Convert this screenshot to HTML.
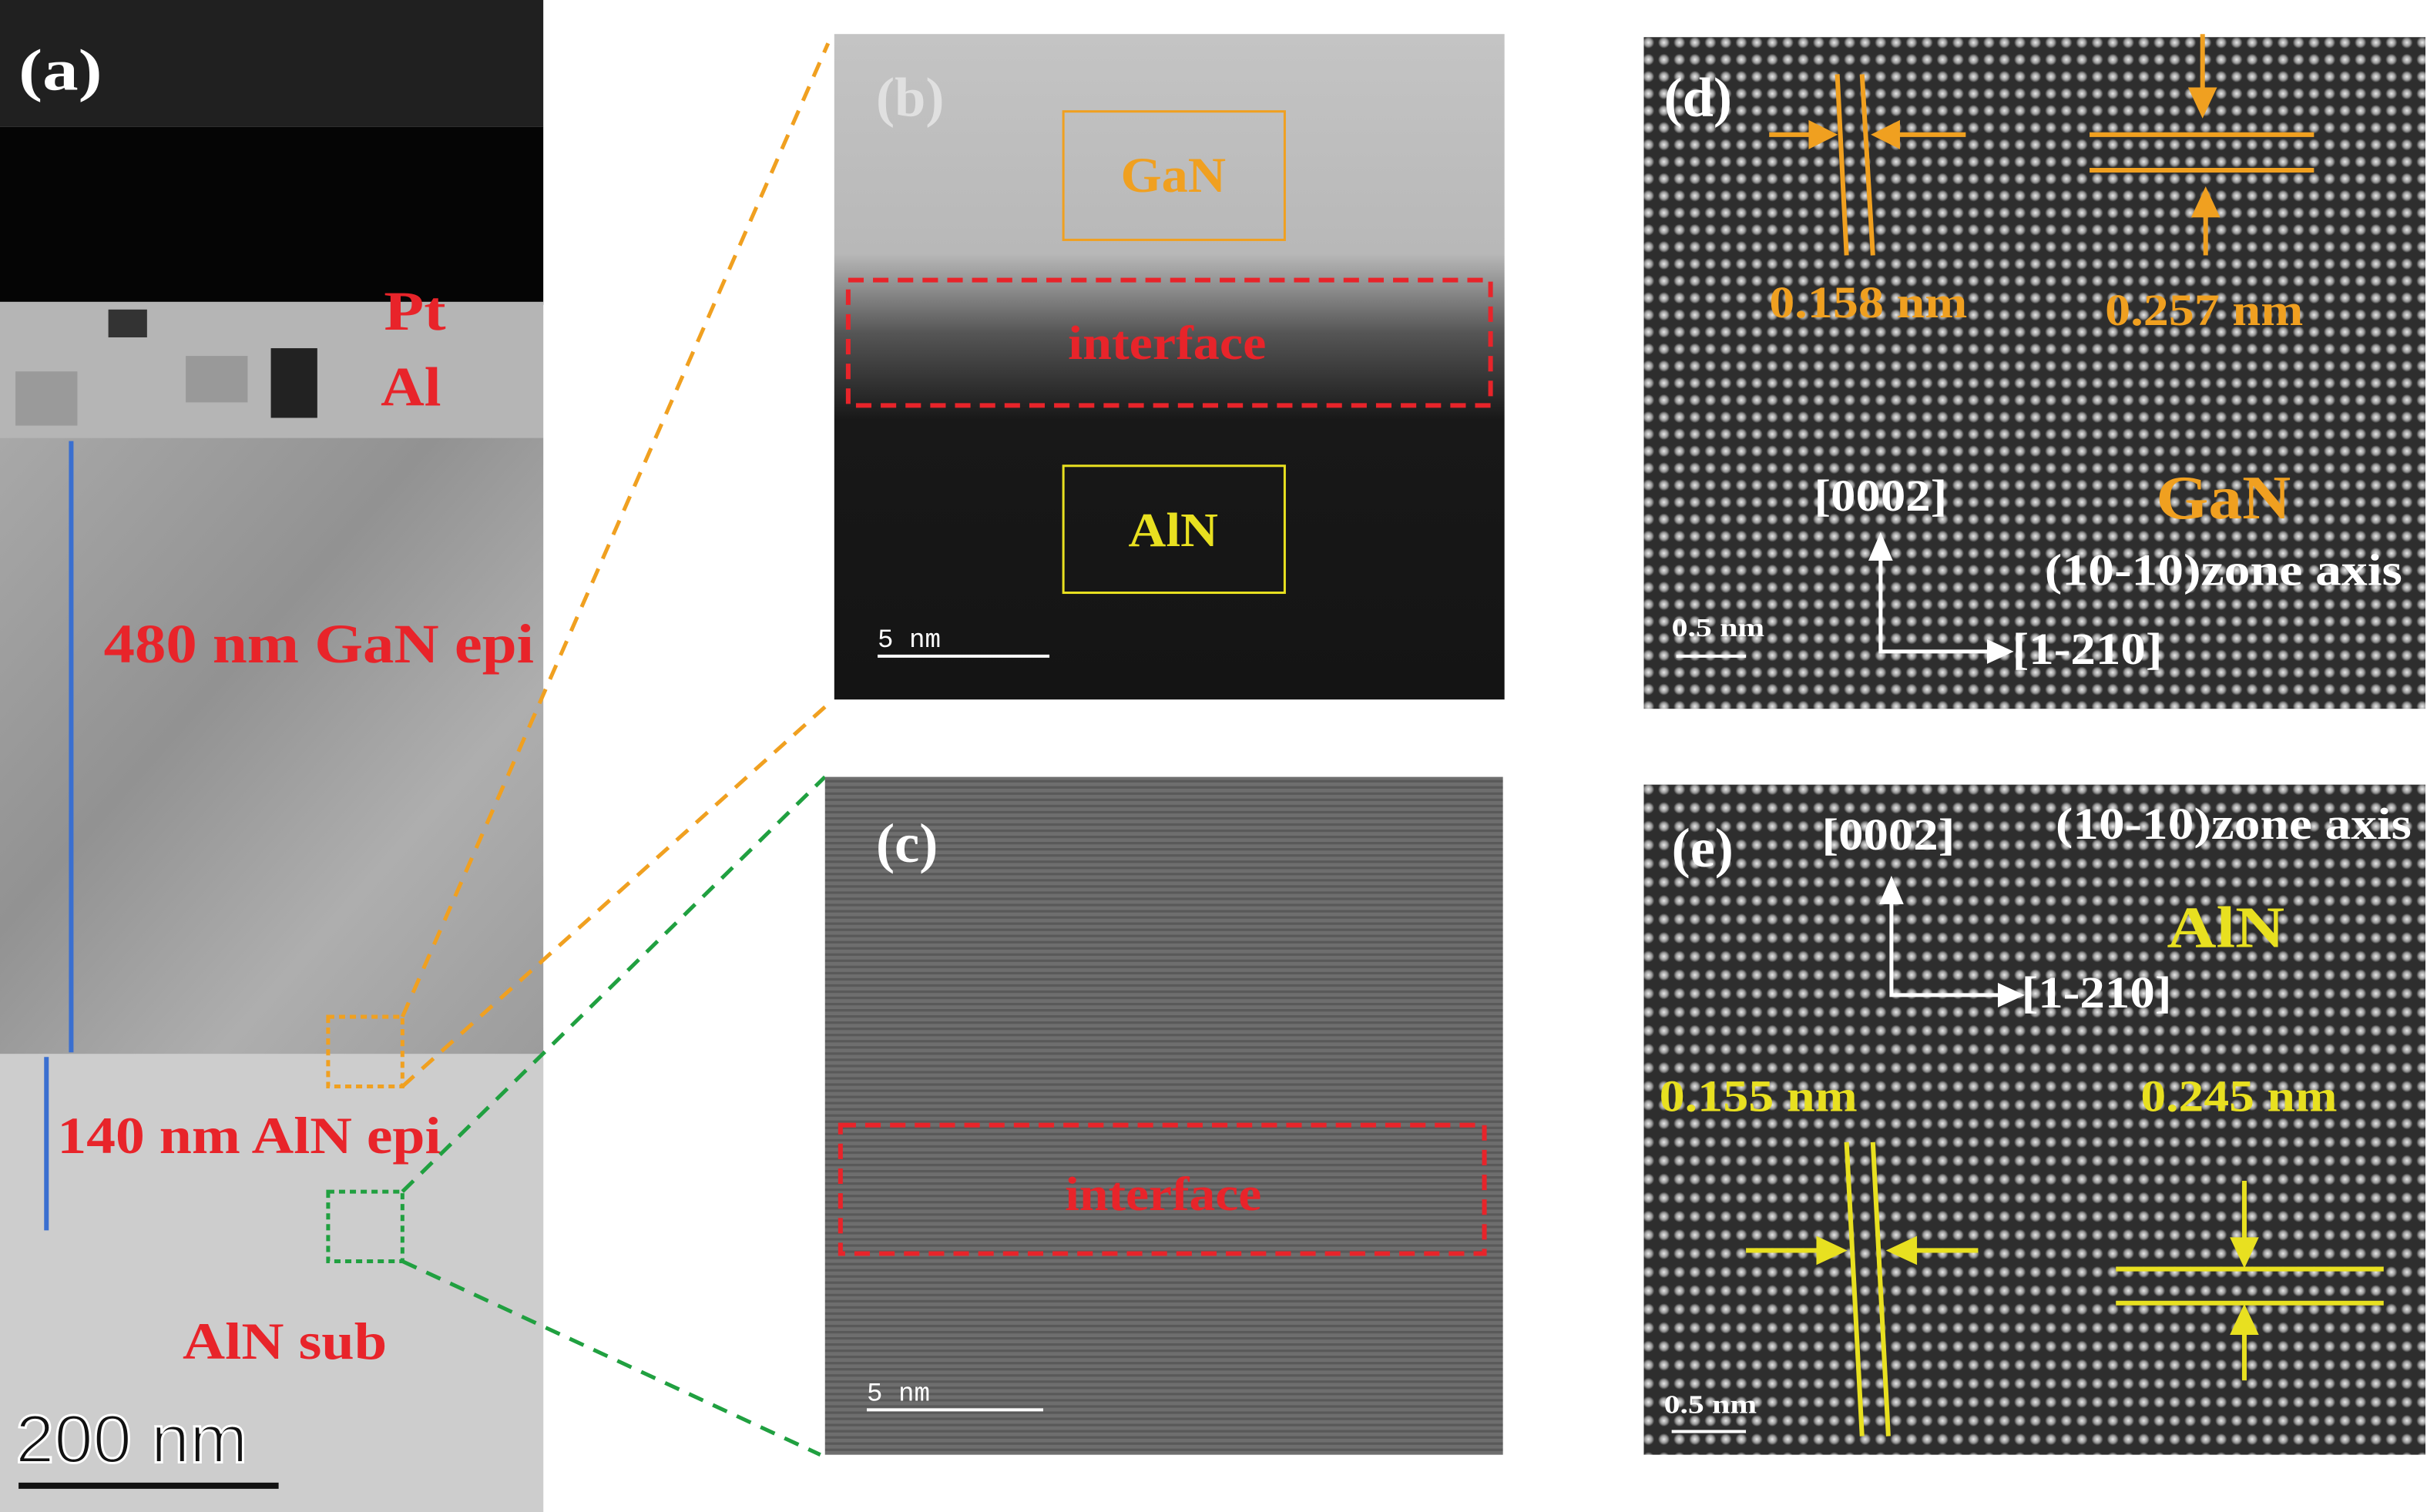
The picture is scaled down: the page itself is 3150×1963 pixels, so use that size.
<!DOCTYPE html>
<html><head><meta charset="utf-8"><style>
html,body{margin:0;padding:0;background:#fff;}
svg{display:block;}
.t{font-family:"Liberation Serif",serif;font-weight:bold;}
</style></head><body>
<svg width="3150" height="1963" viewBox="0 0 1568 977" preserveAspectRatio="none" xmlns="http://www.w3.org/2000/svg">
<defs>
<radialGradient id="dg"><stop offset="0" stop-color="#eaeaea"/><stop offset="0.6" stop-color="#999"/><stop offset="1" stop-color="#999" stop-opacity="0"/></radialGradient>
<pattern id="dots" width="10" height="11" patternUnits="userSpaceOnUse"><rect width="10" height="11" fill="#2e2e2e"/><circle cx="5" cy="5.5" r="3.8" fill="url(#dg)"/></pattern>
<pattern id="dots2" width="10" height="12" patternUnits="userSpaceOnUse"><rect width="10" height="12" fill="#2e2e2e"/><circle cx="5" cy="6" r="3.8" fill="url(#dg)"/></pattern>
<pattern id="stripe" width="4" height="4" patternUnits="userSpaceOnUse"><rect width="4" height="4" fill="#6e6e6e"/><rect width="4" height="1.6" fill="#595959"/></pattern>
<linearGradient id="bg" x1="0" y1="0" x2="0" y2="1"><stop offset="0" stop-color="#c4c4c4"/><stop offset="0.33" stop-color="#b8b8b8"/><stop offset="0.45" stop-color="#555"/><stop offset="0.58" stop-color="#181818"/><stop offset="1" stop-color="#141414"/></linearGradient>
<linearGradient id="ag" x1="0" y1="0" x2="1" y2="1"><stop offset="0" stop-color="#a8a8a8"/><stop offset="0.4" stop-color="#929292"/><stop offset="0.7" stop-color="#aeaeae"/><stop offset="1" stop-color="#9c9c9c"/></linearGradient>
</defs>

<!-- panel a -->
<rect x="0" y="0" width="351" height="977" fill="#c9c9c9"/>
<rect x="0" y="0" width="351" height="82" fill="#202020"/>
<rect x="0" y="82" width="351" height="115" fill="#050505"/>
<rect x="0" y="195" width="351" height="88" fill="#b5b5b5"/>
<rect x="70" y="200" width="25" height="18" fill="#333"/>
<rect x="175" y="225" width="30" height="45" fill="#222"/>
<rect x="120" y="230" width="40" height="30" fill="#999"/>
<rect x="10" y="240" width="40" height="35" fill="#9a9a9a"/>
<rect x="0" y="283" width="351" height="398" fill="url(#ag)"/>
<rect x="0" y="681" width="351" height="296" fill="#cdcdcd"/>
<line x1="46" y1="285" x2="46" y2="680" stroke="#3a6fd0" stroke-width="3"/>
<line x1="30" y1="683" x2="30" y2="795" stroke="#3a6fd0" stroke-width="3"/>
<rect x="212" y="657" width="48" height="45" fill="none" stroke="#f0a020" stroke-width="2.5" stroke-dasharray="4 3"/>
<rect x="212" y="770" width="48" height="45" fill="none" stroke="#20a040" stroke-width="2.5" stroke-dasharray="4 3"/>
<text class="t" x="12" y="58" font-size="38" fill="#fff" textLength="54" lengthAdjust="spacingAndGlyphs">(a)</text>
<text class="t" x="248" y="213" font-size="36" fill="#e8242a" textLength="40" lengthAdjust="spacingAndGlyphs">Pt</text>
<text class="t" x="246" y="262" font-size="36" fill="#e8242a" textLength="39" lengthAdjust="spacingAndGlyphs">Al</text>
<text class="t" x="67" y="428" font-size="36" fill="#e8242a" textLength="278" lengthAdjust="spacingAndGlyphs">480 nm GaN epi</text>
<text class="t" x="37" y="745" font-size="34" fill="#e8242a" textLength="248" lengthAdjust="spacingAndGlyphs">140 nm AlN epi</text>
<text class="t" x="118" y="878" font-size="34" fill="#e8242a" textLength="132" lengthAdjust="spacingAndGlyphs">AlN sub</text>
<text x="10" y="945" font-size="44" font-family="Liberation Sans,sans-serif" fill="#111" stroke="#fff" stroke-width="1.5" textLength="150" lengthAdjust="spacingAndGlyphs">200 nm</text>
<line x1="12" y1="960" x2="180" y2="960" stroke="#111" stroke-width="4"/>

<!-- connectors -->
<line x1="260" y1="657" x2="535" y2="28" stroke="#f0a020" stroke-width="2.5" stroke-dasharray="10 7"/>
<line x1="260" y1="702" x2="535" y2="455" stroke="#f0a020" stroke-width="2.5" stroke-dasharray="10 7"/>
<line x1="260" y1="770" x2="533" y2="502" stroke="#20a040" stroke-width="2.5" stroke-dasharray="10 7"/>
<line x1="260" y1="815" x2="530" y2="940" stroke="#20a040" stroke-width="2.5" stroke-dasharray="10 7"/>

<!-- panel b -->
<rect x="539" y="22" width="433" height="430" fill="url(#bg)"/>
<text class="t" x="566" y="75" font-size="36" fill="#e0e0e0">(b)</text>
<rect x="687" y="72" width="143" height="83" fill="none" stroke="#f0a020" stroke-width="1.5"/>
<text class="t" x="724" y="124" font-size="32" fill="#f0a020" textLength="68" lengthAdjust="spacingAndGlyphs">GaN</text>
<rect x="548" y="181" width="415" height="81" fill="none" stroke="#e8242a" stroke-width="3" stroke-dasharray="10 6"/>
<text class="t" x="690" y="232" font-size="31" fill="#e8242a" textLength="128" lengthAdjust="spacingAndGlyphs">interface</text>
<rect x="687" y="301" width="143" height="82" fill="none" stroke="#e8e020" stroke-width="1.5"/>
<text class="t" x="729" y="353" font-size="31" fill="#e8e020" textLength="58" lengthAdjust="spacingAndGlyphs">AlN</text>
<text x="567" y="418" font-size="17" font-family="Liberation Mono,monospace" fill="#fff">5 nm</text>
<line x1="567" y1="424" x2="678" y2="424" stroke="#fff" stroke-width="2"/>

<!-- panel c -->
<rect x="533" y="502" width="438" height="438" fill="url(#stripe)"/>
<text class="t" x="566" y="557" font-size="36" fill="#fff">(c)</text>
<rect x="543" y="727" width="416" height="83" fill="none" stroke="#e8242a" stroke-width="3" stroke-dasharray="10 6"/>
<text class="t" x="688" y="782" font-size="31" fill="#e8242a" textLength="127" lengthAdjust="spacingAndGlyphs">interface</text>
<text x="560" y="905" font-size="17" font-family="Liberation Mono,monospace" fill="#fff">5 nm</text>
<line x1="560" y1="911" x2="674" y2="911" stroke="#fff" stroke-width="2"/>

<!-- panel d -->
<rect x="1062" y="24" width="505" height="434" fill="url(#dots)"/>
<text class="t" x="1075" y="75" font-size="36" fill="#fff">(d)</text>
<g stroke="#f0a020" stroke-width="3" fill="#f0a020">
<line x1="1187" y1="48" x2="1193" y2="165"/>
<line x1="1203" y1="48" x2="1210" y2="165"/>
<line x1="1143" y1="87" x2="1172" y2="87"/><polygon points="1184,87 1170,80 1170,94"/>
<line x1="1270" y1="87" x2="1224" y2="87"/><polygon points="1212,87 1226,80 1226,94"/>
<line x1="1350" y1="87" x2="1495" y2="87"/>
<line x1="1350" y1="110" x2="1495" y2="110"/>
<line x1="1423" y1="22" x2="1423" y2="60"/><polygon points="1423,73 1416,58 1430,58"/>
<line x1="1425" y1="165" x2="1425" y2="138"/><polygon points="1425,124 1418,139 1432,139"/>
</g>
<text class="t" x="1143" y="205" font-size="29" fill="#f0a020" textLength="128" lengthAdjust="spacingAndGlyphs">0.158 nm</text>
<text class="t" x="1360" y="210" font-size="29" fill="#f0a020" textLength="128" lengthAdjust="spacingAndGlyphs">0.257 nm</text>
<text class="t" x="1172" y="330" font-size="29" fill="#fff" textLength="86" lengthAdjust="spacingAndGlyphs">[0002]</text>
<text class="t" x="1393" y="335" font-size="40" fill="#f0a020" textLength="87" lengthAdjust="spacingAndGlyphs">GaN</text>
<text class="t" x="1321" y="378" font-size="29" fill="#fff" textLength="231" lengthAdjust="spacingAndGlyphs">(10-10)zone axis</text>
<g stroke="#fff" stroke-width="2.5" fill="#fff">
<polyline points="1215,360 1215,421 1287,421" fill="none"/>
<polygon points="1215,347 1209,361 1221,361"/><polygon points="1298,421 1285,415 1285,427"/>
</g>
<text class="t" x="1300" y="429" font-size="29" fill="#fff" textLength="97" lengthAdjust="spacingAndGlyphs">[1-210]</text>
<text class="t" x="1080" y="411" font-size="17" fill="#fff" textLength="60" lengthAdjust="spacingAndGlyphs">0.5 nm</text>
<line x1="1083" y1="424" x2="1128" y2="424" stroke="#fff" stroke-width="2"/>

<!-- panel e -->
<rect x="1062" y="507" width="505" height="433" fill="url(#dots2)"/>
<text class="t" x="1080" y="560" font-size="36" fill="#fff">(e)</text>
<text class="t" x="1177" y="549" font-size="29" fill="#fff" textLength="86" lengthAdjust="spacingAndGlyphs">[0002]</text>
<text class="t" x="1328" y="542" font-size="29" fill="#fff" textLength="230" lengthAdjust="spacingAndGlyphs">(10-10)zone axis</text>
<text class="t" x="1400" y="612" font-size="38" fill="#e8e020" textLength="76" lengthAdjust="spacingAndGlyphs">AlN</text>
<g stroke="#fff" stroke-width="2.5" fill="#fff">
<polyline points="1222,583 1222,643 1294,643" fill="none"/>
<polygon points="1222,569 1216,583 1228,583"/><polygon points="1305,643 1292,637 1292,649"/>
</g>
<text class="t" x="1306" y="651" font-size="29" fill="#fff" textLength="97" lengthAdjust="spacingAndGlyphs">[1-210]</text>
<text class="t" x="1072" y="718" font-size="29" fill="#e8e020" textLength="128" lengthAdjust="spacingAndGlyphs">0.155 nm</text>
<text class="t" x="1383" y="718" font-size="29" fill="#e8e020" textLength="127" lengthAdjust="spacingAndGlyphs">0.245 nm</text>
<g stroke="#e8e020" stroke-width="3" fill="#e8e020">
<line x1="1193" y1="738" x2="1203" y2="928"/>
<line x1="1210" y1="738" x2="1220" y2="928"/>
<line x1="1128" y1="808" x2="1176" y2="808"/><polygon points="1190,808 1175,801 1175,815"/>
<line x1="1278" y1="808" x2="1236" y2="808"/><polygon points="1222,808 1237,801 1237,815"/>
<line x1="1367" y1="820" x2="1540" y2="820"/>
<line x1="1367" y1="842" x2="1540" y2="842"/>
<line x1="1450" y1="763" x2="1450" y2="802"/><polygon points="1450,816 1443,801 1457,801"/>
<line x1="1450" y1="892" x2="1450" y2="860"/><polygon points="1450,846 1443,861 1457,861"/>
</g>
<text class="t" x="1075" y="913" font-size="17" fill="#fff" textLength="60" lengthAdjust="spacingAndGlyphs">0.5 nm</text>
<line x1="1080" y1="925" x2="1128" y2="925" stroke="#fff" stroke-width="2"/>
</svg>
</body></html>
